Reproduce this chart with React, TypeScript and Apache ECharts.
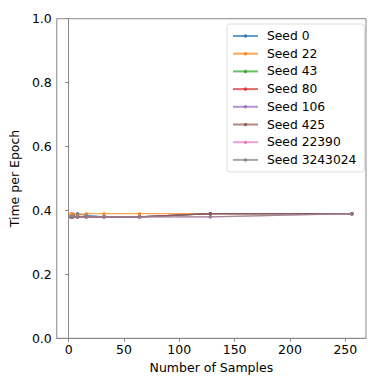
import React, { useEffect, useRef } from "react";
import * as echarts from "echarts";

const samples = [2, 4, 8, 16, 32, 64, 128, 256];
const seedNames = ["Seed 0", "Seed 22", "Seed 43", "Seed 80", "Seed 106", "Seed 425", "Seed 22390", "Seed 3243024"];
const seedColors = ["#1f77b4", "#ff7f0e", "#2ca02c", "#d62728", "#9467bd", "#8c564b", "#e377c2", "#7f7f7f"];
const seed0 = [0.38, 0.385, 0.39, 0.385, 0.38, 0.38, 0.39, 0.39];
const seed22 = [0.39, 0.39, 0.385, 0.39, 0.39, 0.39, 0.39, 0.39];
const seed43 = [0.38, 0.38, 0.38, 0.38, 0.38, 0.38, 0.39, 0.39];
const seed80 = [0.38, 0.38, 0.38, 0.38, 0.38, 0.38, 0.39, 0.39];
const seed106 = [0.38, 0.38, 0.38, 0.38, 0.38, 0.38, 0.39, 0.39];
const seed425 = [0.38, 0.38, 0.38, 0.38, 0.38, 0.38, 0.39, 0.39];
const seed22390 = [0.38, 0.38, 0.38, 0.38, 0.38, 0.38, 0.38, 0.39];
const seed3243024 = [0.38, 0.38, 0.38, 0.38, 0.38, 0.38, 0.38, 0.39];
const seedValues = [seed0, seed22, seed43, seed80, seed106, seed425, seed22390, seed3243024];
const xTicks = [0, 50, 100, 150, 200, 250];

const FONT = "DejaVu Sans";
const FS = 12.5;

export default function App() {
  const ref = useRef<HTMLDivElement>(null);
  useEffect(() => {
    if (!ref.current) return;
    const chart = echarts.init(ref.current, undefined, { renderer: "svg" });
    const axisCommon = {
      axisLine: { show: true, lineStyle: { color: "#888", width: 1 } },
      axisTick: { show: true, length: 3.5, lineStyle: { color: "#888" } },
      splitLine: { show: false },
      nameTextStyle: { fontFamily: FONT, fontSize: FS, color: "#000" },
    };
    chart.setOption({
      animation: false,
      backgroundColor: "#fff",
      grid: {
        left: 50,
        top: 18.7,
        right: 15,
        bottom: 42.7,
        show: true,
        borderColor: "#888",
        borderWidth: 1,
        containLabel: false,
      },
      xAxis: {
        type: "value",
        min: -10.7,
        max: 268.7,
        name: "Number of Samples",
        nameLocation: "middle",
        nameGap: 17,
        ...axisCommon,
        axisTick: { show: true, length: 3.5, lineStyle: { color: "#888" }, customValues: xTicks },
        axisLabel: {
          customValues: xTicks,
          fontFamily: FONT,
          fontSize: FS,
          color: "#000",
          margin: 5,
        },
      },
      yAxis: {
        type: "value",
        min: 0,
        max: 1,
        interval: 0.2,
        name: "Time per Epoch",
        nameLocation: "middle",
        nameGap: 27,
        ...axisCommon,
        axisLabel: {
          fontFamily: FONT,
          fontSize: FS,
          color: "#000",
          margin: 5,
          formatter: (v: number) => v.toFixed(1),
        },
      },
      legend: {
        orient: "vertical",
        left: 227,
        top: 24,
        width: 135,
        padding: [5, 8, 5, 5],
        itemWidth: 25,
        itemHeight: 4.4,
        itemGap: 3.7,
        backgroundColor: "#fff",
        borderColor: "#ddd",
        borderWidth: 1,
        borderRadius: 3,
        data: seedNames,
        textStyle: { fontFamily: FONT, fontSize: 12.3, lineHeight: 14, color: "#000", padding: [0, 0, 0, 4] },
      },
      series: seedNames.map((name, i) => ({
        name,
        type: "line",
        data: samples.map((s, j) => [s, seedValues[i][j]]),
        color: seedColors[i],
        symbol: "circle",
        symbolSize: 3.5,
        showSymbol: true,
        lineStyle: { width: 1.3, opacity: 0.7 },
        itemStyle: { color: seedColors[i], opacity: 0.8 },
      })),
    });
    return () => chart.dispose();
  }, []);
  return <div ref={ref} style={{ width: 381, height: 381, position: "absolute", left: 0, top: 0 }} />;
}
